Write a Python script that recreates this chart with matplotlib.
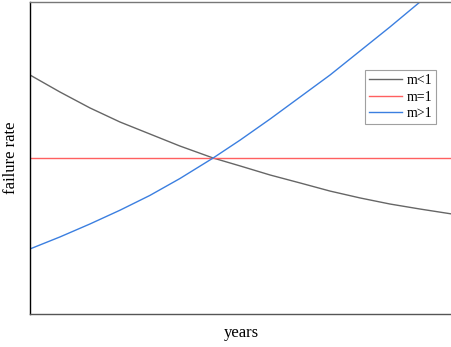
import matplotlib
matplotlib.use("Agg")
import matplotlib.pyplot as plt

# hazard curves for three shape parameters (arbitrary units)
years = [0.0, 0.71, 1.42, 2.13, 2.84, 3.55, 4.34, 4.98, 5.69, 6.40, 7.11, 7.82, 8.53, 9.24, 10.0]

rate_dec = [1.532, 1.423, 1.321, 1.231, 1.154, 1.077, 1.0, 0.949, 0.891, 0.840,
            0.788, 0.744, 0.705, 0.673, 0.641]

rate_const = [1.0] * len(years)

# m>1 leaves the plot at the top, so it stops one point early
rate_inc = [0.417, 0.494, 0.577, 0.665, 0.760, 0.868, 1.0, 1.115, 1.250, 1.391,
            1.532, 1.686, 1.840, 2.0]

labels = ["m<1", "m=1", "m>1"]

plt.rcParams["font.family"] = ["Liberation Serif", "DejaVu Serif"]

fig = plt.figure(figsize=(4.52, 3.47), dpi=100)
ax = fig.add_axes([30 / 452, 1 - 314 / 347, 1 - 30 / 452, 312 / 347])

ax.plot(years, rate_dec, color="#666666", lw=1.0, label=labels[0])
ax.plot(years, rate_const, color="#ff6060", lw=1.0, label=labels[1])
ax.plot(years[:len(rate_inc)], rate_inc, color="#3b7fe0", lw=1.0, label=labels[2])

ax.set_xlim(0, 10)
ax.set_ylim(0, 2)
ax.set_xticks([])
ax.set_yticks([])

ax.spines["right"].set_visible(False)
ax.spines["left"].set_color("black")
ax.spines["bottom"].set_color("#555555")
ax.spines["top"].set_color("#777777")
for s in ax.spines.values():
    s.set_linewidth(1.0)

ax.set_xlabel("years", fontsize=12, labelpad=8)
ax.set_ylabel("failure rate", fontsize=12, labelpad=8)

leg = ax.legend(loc="upper left", bbox_to_anchor=(335 / 422, 1 - 68 / 312),
                fontsize=10, frameon=True, fancybox=False, handlelength=2.4,
                handletextpad=0.3, borderpad=0.3, labelspacing=0.25,
                borderaxespad=0)
leg.get_frame().set_edgecolor("#888888")
leg.get_frame().set_linewidth(0.8)

fig.savefig("out.png", dpi=100)
